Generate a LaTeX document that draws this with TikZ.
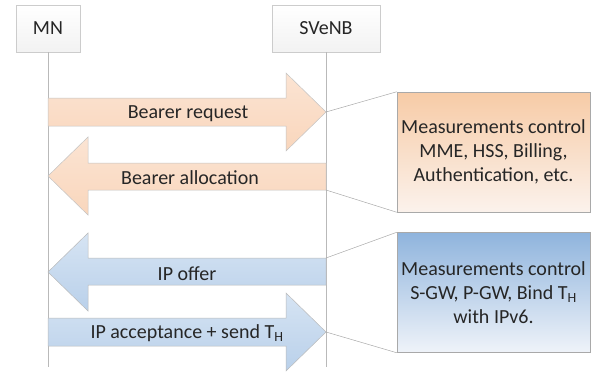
\documentclass[tikz,border=0pt]{standalone}
\usepackage{fontspec}
\setmainfont{Carlito}
\usetikzlibrary{calc}
\definecolor{peachtop}{HTML}{F7CBA6}
\definecolor{peachbot}{HTML}{FBF2EC}
\definecolor{peacharrowA}{HTML}{FBE4D3}
\definecolor{peacharrowB}{HTML}{F9D6BC}
\definecolor{bluetop}{HTML}{8FB4DD}
\definecolor{bluebot}{HTML}{EFF3F9}
\definecolor{bluearrowA}{HTML}{D6E4F3}
\definecolor{bluearrowB}{HTML}{B9D0EA}
\definecolor{edgegray}{HTML}{A9A9A9}

\begin{document}
\begin{tikzpicture}[x=1pt, y=-1pt,
    every node/.style={font=\fontsize{20}{24}\selectfont, text=black!85},
    header/.style={draw=gray!40, top color=white, bottom color=gray!10, minimum height=47pt, inner sep=0pt},
    lifeline/.style={draw=gray!55, line width=0.6pt},
    orangearrow/.style={draw=edgegray!70, line width=0.5pt, top color=peacharrowA, bottom color=peacharrowB},
    bluearrow/.style={draw=edgegray!80, line width=0.5pt, top color=bluearrowA, bottom color=bluearrowB},
    notebox/.style={draw=edgegray, line width=0.5pt, minimum width=193pt, minimum height=120pt, align=center, inner sep=0pt},
    callout/.style={draw=edgegray, line width=0.5pt}]
    \useasboundingbox (0,0) rectangle (596,372);
    % Koepfe der Lebenslinien
    \node[header, minimum width=64pt] (mn) at (48,28.5) {MN};
    \node[header, minimum width=108pt] (enb) at (326,28.5) {SVeNB};
    % Lebenslinien
    \coordinate (mnend) at (48,367);
    \coordinate (enbend) at (326,367);
    \draw[lifeline] (mn.south) -- (mnend);
    \draw[lifeline] (enb.south) -- (enbend);
    % Bearer request (nach rechts)
    \draw[orangearrow] (48,98) -- (286,98) -- (286,73) -- (326,112) -- (286,151) -- (286,126) -- (48,126) -- cycle;
    \coordinate (reqtip) at (326,112);
    \node (req) at (188,113.5) {Bearer request};
    % Bearer allocation (nach links)
    \draw[orangearrow] (326,163) -- (88,163) -- (88,137) -- (48,176) -- (88,215) -- (88,190) -- (326,190) -- cycle;
    \coordinate (allocend) at (326,190);
    \node (alloc) at (190,177.5) {Bearer allocation};
    % IP offer (nach links)
    \draw[bluearrow] (326,258) -- (88,258) -- (88,233) -- (48,272) -- (88,311) -- (88,285) -- (326,285) -- cycle;
    \coordinate (offerend) at (326,258);
    \node (offer) at (187,273.5) {IP offer};
    % IP acceptance (nach rechts)
    \draw[bluearrow] (48,318) -- (286,318) -- (286,293) -- (326,332) -- (286,371) -- (286,346) -- (48,346) -- cycle;
    \coordinate (accepttip) at (326,332);
    \node (accept) at (187,333.5) {IP acceptance + send T\textsubscript{H}};
    % Kommentarkaesten
    \node[notebox, top color=peachtop, bottom color=peachbot] (meas1) at (493.5,152)
        {Measurements control\\MME, HSS, Billing,\\Authentication, etc.};
    \node[notebox, top color=bluetop, bottom color=bluebot] (meas2) at (493.5,292.5)
        {Measurements control\\S-GW, P-GW, Bind T\textsubscript{H}\\with IPv6.};
    % Verbindungslinien
    \draw[callout] (reqtip) -- (meas1.north west);
    \draw[callout] (allocend) -- (meas1.south west);
    \draw[callout] (offerend) -- (meas2.north west);
    \draw[callout] (accepttip) -- (meas2.south west);
\end{tikzpicture}
\end{document}
